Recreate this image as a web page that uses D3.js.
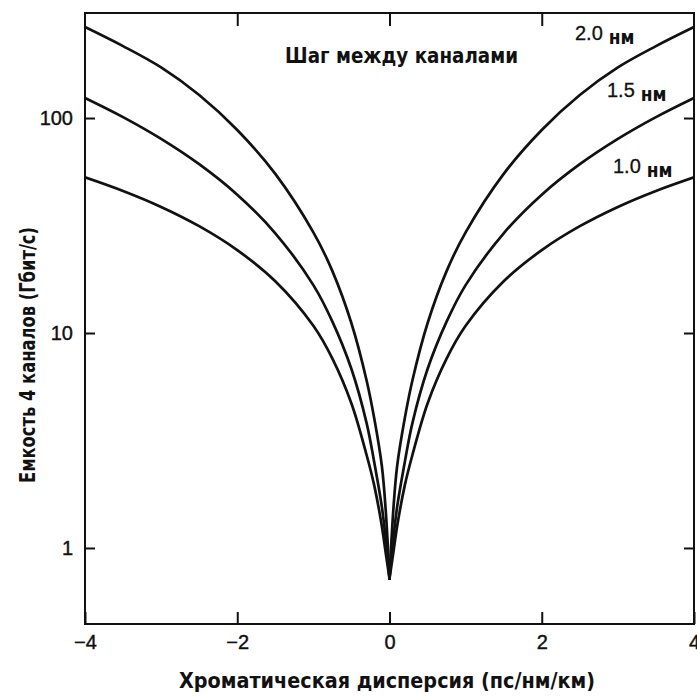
<!DOCTYPE html>
<html>
<head>
<meta charset="utf-8">
<script src="https://cdn.jsdelivr.net/npm/d3@7"></script>
<style>
  html, body { margin: 0; padding: 0; background: #fff; }
  svg { display: block; }
  text { fill: #111; }
</style>
</head>
<body>
<svg id="chart" width="697" height="696"></svg>
<script>
// Chromatic dispersion, ps/(nm·km)
const dispersion = [-4, -3.5, -3, -2.5, -2, -1.5, -1, -0.75, -0.5, -0.3, -0.2, -0.1, -0.05, 0,
                    0.05, 0.1, 0.2, 0.3, 0.5, 0.75, 1, 1.5, 2, 2.5, 3, 3.5, 4];

// Capacity of 4 channels, Gbit/s, for each channel spacing
const capacity20 = [265, 216, 172, 128, 88, 55, 29.4, 19.4, 11.1, 6.0, 4.0, 2.4, 1.5, 0.72,
                    1.5, 2.4, 4.0, 6.0, 11.1, 19.4, 29.4, 55, 88, 128, 172, 216, 265];
const capacity15 = [124, 101, 80, 61, 44, 29.1, 16.7, 11.3, 6.8, 3.8, 2.5, 1.55, 1.1, 0.72,
                    1.1, 1.55, 2.5, 3.8, 6.8, 11.3, 16.7, 29.1, 44, 61, 80, 101, 124];
const capacity10 = [53, 45.8, 38.6, 31.4, 24.3, 17.4, 10.8, 7.6, 4.7, 2.7, 1.95, 1.26, 0.95, 0.72,
                    0.95, 1.26, 1.95, 2.7, 4.7, 7.6, 10.8, 17.4, 24.3, 31.4, 38.6, 45.8, 53];

const seriesNames = ["2.0", "1.5", "1.0"];
const seriesValues = [capacity20, capacity15, capacity10];

const xTicks = [-4, -2, 0, 2, 4];
const yTicks = [1, 10, 100];

const title = "Шаг между каналами";
const xTitle = "Хроматическая дисперсия (пс/нм/км)";
const yTitle = "Емкость 4 каналов (Гбит/с)";
const unit = "нм";

const svg = d3.select("#chart");
const plotLeft = 85, plotRight = 694, plotTop = 13, plotBottom = 624;

const x = d3.scaleLinear().domain([-4, 4]).range([plotLeft, plotRight]);
const y = d3.scaleLog().domain([0.443, 308]).range([plotBottom, plotTop]);

const narrow = "'Liberation Sans Narrow', 'DejaVu Sans Condensed', 'Liberation Sans', sans-serif";
const plain = "'Liberation Sans', Arial, sans-serif";

// frame
svg.append("rect")
  .attr("x", plotLeft).attr("y", plotTop)
  .attr("width", plotRight - plotLeft).attr("height", plotBottom - plotTop)
  .attr("fill", "none").attr("stroke", "#111").attr("stroke-width", 2);

// inward ticks on all four sides
const fmt = d => d < 0 ? "\u2212" + Math.abs(d) : String(d);
const xAxisB = d3.axisBottom(x).tickValues(xTicks).tickSize(-12).tickPadding(11).tickFormat(fmt);
const xAxisT = d3.axisTop(x).tickValues(xTicks.slice(1, -1)).tickSize(-13).tickFormat("");
const yAxisL = d3.axisLeft(y).tickValues(yTicks).tickSize(-10).tickPadding(12).tickFormat(d3.format("d"));
const yAxisR = d3.axisRight(y).tickValues(yTicks).tickSize(-10).tickFormat("");

function styleAxis(g) {
  g.select(".domain").remove();
  g.selectAll(".tick line").attr("stroke", "#111").attr("stroke-width", 2);
  g.selectAll(".tick text")
    .attr("font-family", plain).attr("font-size", 20).attr("fill", "#111")
    .attr("stroke", "#111").attr("stroke-width", 0.4);
}

svg.append("g").attr("transform", `translate(0,${plotBottom})`).call(xAxisB).call(styleAxis);
svg.append("g").attr("transform", `translate(0,${plotTop})`).call(xAxisT).call(styleAxis);
svg.append("g").attr("transform", `translate(${plotLeft},0)`).call(yAxisL).call(styleAxis);
svg.append("g").attr("transform", `translate(${plotRight},0)`).call(yAxisR).call(styleAxis);

// curves: each series is drawn as two smooth branches meeting in a cusp at zero dispersion
const clipId = "plot-area";
svg.append("clipPath").attr("id", clipId)
  .append("rect").attr("x", plotLeft).attr("y", plotTop)
  .attr("width", plotRight - plotLeft).attr("height", plotBottom - plotTop);

const line = d3.line()
  .x(p => x(p[0]))
  .y(p => y(p[1]))
  .curve(d3.curveCatmullRom.alpha(0.5));

const branches = [];
seriesValues.forEach(values => {
  const pts = dispersion.map((d, i) => [d, values[i]]);
  branches.push(pts.filter(p => p[0] <= 0));
  branches.push(pts.filter(p => p[0] >= 0));
});

svg.append("g").attr("clip-path", `url(#${clipId})`)
  .selectAll("path")
  .data(branches)
  .join("path")
  .attr("d", line)
  .attr("fill", "none")
  .attr("stroke", "#111")
  .attr("stroke-width", 2.7)
  .attr("stroke-linejoin", "round")
  .attr("stroke-linecap", "round");

// series labels
const labelPos = [[575, 40], [607, 97], [613, 173]];
seriesNames.forEach((name, i) => {
  const t = svg.append("text")
    .attr("x", labelPos[i][0]).attr("y", labelPos[i][1])
    .attr("font-family", plain).attr("font-size", 20)
    .attr("stroke", "#111").attr("stroke-width", 0.3);
  t.append("tspan").text(name);
  t.append("tspan").attr("dx", 6).attr("dy", 4)
    .attr("font-family", narrow).attr("font-weight", "bold").attr("font-size", 19)
    .attr("stroke-width", 0)
    .text(unit);
});

// titles
svg.append("text")
  .attr("x", 285).attr("y", 63)
  .attr("font-family", narrow).attr("font-weight", "bold").attr("font-size", 21)
  .attr("textLength", 233).attr("lengthAdjust", "spacingAndGlyphs")
  .text(title);

svg.append("text")
  .attr("x", 179).attr("y", 688)
  .attr("font-family", narrow).attr("font-weight", "bold").attr("font-size", 21)
  .attr("textLength", 416).attr("lengthAdjust", "spacingAndGlyphs")
  .text(xTitle);

svg.append("text")
  .attr("transform", "translate(35,355) rotate(-90)")
  .attr("x", -128)
  .attr("font-family", narrow).attr("font-weight", "bold").attr("font-size", 21)
  .attr("textLength", 256).attr("lengthAdjust", "spacingAndGlyphs")
  .text(yTitle);
</script>
</body>
</html>
